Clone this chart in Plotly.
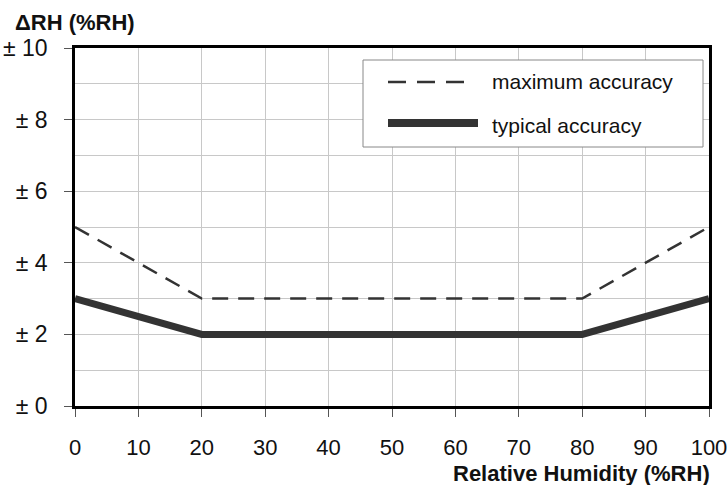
import plotly.graph_objects as go

rh = [0, 20, 80, 100]
max_acc = [5, 3, 3, 5]
typ_acc = [3, 2, 2, 3]
y_ticks = [0, 2, 4, 6, 8, 10]
y_tick_labels = ["± 0", "± 2", "± 4", "± 6", "± 8", "± 10"]
x_ticks = list(range(0, 101, 10))
series_names = ["maximum accuracy", "typical accuracy"]

FONT = "Liberation Sans, Arial, sans-serif"
LC = "#333333"

fig = go.Figure()
fig.add_trace(go.Scatter(x=rh, y=max_acc, mode="lines", name=series_names[0],
                         line=dict(color=LC, width=2.5, dash="16px,10px"), showlegend=False))
fig.add_trace(go.Scatter(x=rh, y=typ_acc, mode="lines", name=series_names[1],
                         line=dict(color=LC, width=7), showlegend=False))

L, R, T, B = 75, 19, 48, 79
W, H = 728, 485
pw, ph = W - L - R, H - T - B

def px(x):
    return (x - L) / pw

def py(y):
    return (H - B - y) / ph

shapes = [
    dict(type="rect", xref="paper", yref="paper", x0=px(363), x1=px(703), y0=py(147), y1=py(60),
         line=dict(color="#888888", width=1), fillcolor="white", layer="above"),
    dict(type="line", xref="paper", yref="paper", x0=px(388), x1=px(472), y0=py(82), y1=py(82),
         line=dict(color=LC, width=2.5, dash="18px,11px"), layer="above"),
    dict(type="line", xref="paper", yref="paper", x0=px(388), x1=px(478), y0=py(123), y1=py(123),
         line=dict(color=LC, width=8), layer="above"),
]

annotations = [
    dict(text=series_names[0], xref="paper", yref="paper", x=px(490), y=py(82), xanchor="left",
         yanchor="middle", showarrow=False, font=dict(family=FONT, size=21, color="#111")),
    dict(text=series_names[1], xref="paper", yref="paper", x=px(490), y=py(125), xanchor="left",
         yanchor="middle", showarrow=False, font=dict(family=FONT, size=21, color="#111")),
    dict(text="<b>Relative Humidity (%RH)</b>", xref="paper", yref="paper", x=px(712), y=py(474),
         xanchor="right", yanchor="middle", showarrow=False, font=dict(family=FONT, size=22, color="#111")),
    dict(text="<b>ΔRH (%RH)</b>", xref="paper", yref="paper", x=px(13), y=py(22),
         xanchor="left", yanchor="middle", showarrow=False, font=dict(family=FONT, size=22, color="#111")),
]

fig.update_layout(
    width=W, height=H,
    margin=dict(l=L, r=R, t=T, b=B, autoexpand=False),
    paper_bgcolor="white", plot_bgcolor="white",
    shapes=shapes, annotations=annotations,
    font=dict(family=FONT, size=21, color="#111"),
)
fig.update_xaxes(range=[0, 100], tickvals=x_ticks, showgrid=True, gridcolor="#c8c8c8", gridwidth=1,
                 showline=True, linecolor="black", linewidth=2.5, mirror=True,
                 ticks="outside", ticklen=8, tickcolor="#555", tickwidth=1, ticklabelstandoff=12,
                 tickfont=dict(size=22), automargin=False, ticklabeloverflow="allow",
                 zeroline=False, fixedrange=True)
fig.update_yaxes(range=[0, 10], tickvals=y_ticks, ticktext=y_tick_labels,
                 showgrid=True, gridcolor="#c8c8c8", gridwidth=1,
                 minor=dict(tickvals=[1, 3, 5, 7, 9], showgrid=True, gridcolor="#c8c8c8", gridwidth=1, ticks=""),
                 showline=True, linecolor="black", linewidth=2.5, mirror=True,
                 ticks="outside", ticklen=8, tickcolor="#555", tickwidth=1, ticklabelstandoff=12,
                 tickfont=dict(size=23), automargin=False, ticklabeloverflow="allow",
                 zeroline=False, fixedrange=True)

fig.write_html("out.html", config={"displayModeBar": False},
               post_script="document.body.style.margin='0';document.body.style.overflow='hidden';")
